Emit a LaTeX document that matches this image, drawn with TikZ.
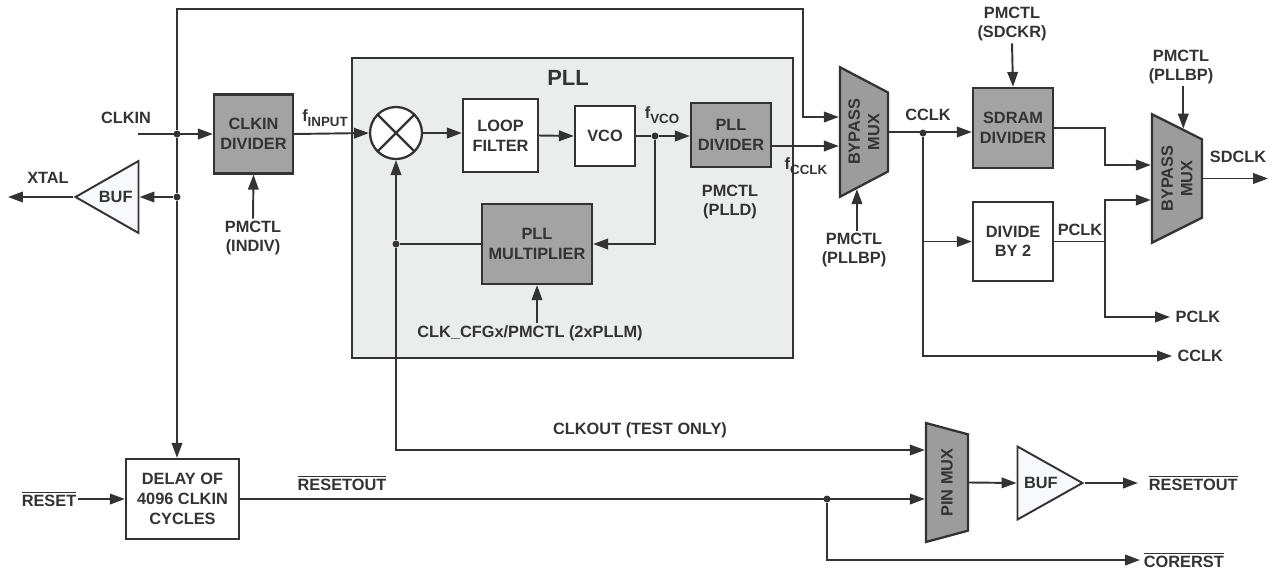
\documentclass[tikz,border=0pt]{standalone}
\usepackage{fontspec}
\setmainfont{Liberation Sans}
\usetikzlibrary{shapes.geometric,arrows.meta,calc}
\definecolor{linec}{HTML}{333333}
\definecolor{boxg}{HTML}{A3A3A3}
\definecolor{muxg}{HTML}{9C9C9C}
\definecolor{pllg}{HTML}{EBECEC}
\definecolor{bufc}{HTML}{F7F9FC}
\newcommand{\lblfont}{\fontsize{9.3}{11.2}\selectfont\bfseries}
\newcommand{\fsub}[1]{f\raisebox{-0.5ex}{\fontsize{7.6}{8}\selectfont #1}}
\newcommand{\negsig}[1]{$\overline{\mbox{#1}}$}
\begin{document}
\begin{tikzpicture}[x=0.02cm,y=-0.02cm,
  wire/.style={draw=linec,line width=1.1pt},
  arr/.style={wire,-{Triangle[length=8.5pt,width=6pt]}},
  blk/.style={draw=linec,line width=1.3pt,text=linec,align=center,font=\lblfont,inner sep=1pt},
  gblk/.style={blk,fill=boxg},
  lbl/.style={text=linec,align=center,font=\lblfont,inner sep=1pt},
  dot/.style={circle,fill=linec,inner sep=0pt,minimum size=0.14cm},
  mux/.style={trapezium,rotate=90,draw=linec,fill=muxg,line width=1.3pt,text=linec,align=center,font=\lblfont,
    trapezium stretches=true,trapezium left angle=124,trapezium right angle=124,inner sep=0pt},
  buf/.style={isosceles triangle,isosceles triangle stretches,draw=linec,fill=bufc,line width=1.1pt,text=linec,font=\lblfont,inner sep=1pt}]
\useasboundingbox (0,0) rectangle (1270,569);

% PLL block
\node[draw=linec,fill=pllg,line width=1.2pt,minimum width=8.82cm,minimum height=6cm] (pll) at (572.5,208) {};
\node[lbl,font=\fontsize{12.5}{14}\selectfont\bfseries] (plltitle) at (568,78) {PLL};

% input side
\node[lbl] (clkin) at (126,118) {CLKIN};
\coordinate (clkin0) at (138,134);
\node[dot] (jin) at (177,134) {};
\node[dot] (jbuf) at (177,197) {};
\coordinate (tl) at (177,9);
\coordinate (tr) at (803,9);
\coordinate (bypin) at (803,117);
\node[gblk,minimum width=1.58cm,minimum height=1.58cm] (cdiv) at (253.5,134) {CLKIN\\DIVIDER};
\node[lbl] (indiv) at (253,238) {PMCTL\\(INDIV)};
\node[buf,shape border rotate=180,minimum width=1.44cm,minimum height=1.26cm,anchor=apex] (xbuf) at (73,197) {BUF};
\coordinate (xtal0) at (8,197);
\node[lbl] (xtal) at (48,178) {XTAL};
\node[lbl] (finput) at (325,118) {\fsub{INPUT}};

% inside the PLL
\node[circle,draw=linec,fill=white,line width=1.3pt,minimum size=1.04cm,
  path picture={\draw[linec,line width=1.3pt] (path picture bounding box.north west) -- (path picture bounding box.south east)
    (path picture bounding box.north east) -- (path picture bounding box.south west);}] (mix) at (396,133) {};
\node[blk,fill=white,minimum width=1.5cm,minimum height=1.46cm] (lf) at (500.5,135.5) {LOOP\\FILTER};
\node[blk,fill=white,minimum width=1.2cm,minimum height=1.2cm] (vco) at (605,136) {VCO};
\node[dot] (jvco) at (655,136) {};
\node[lbl] (fvco) at (662,115) {\fsub{VCO}};
\node[gblk,minimum width=1.6cm,minimum height=1.28cm] (pdiv) at (731,135) {PLL\\DIVIDER};
\node[lbl] (plld) at (730,202) {PMCTL\\(PLLD)};
\node[gblk,minimum width=2.2cm,minimum height=1.6cm] (pmul) at (537,244) {PLL\\MULTIPLIER};
\node[dot] (jmul) at (396,244) {};
\node[lbl] (pllm) at (530,333) {CLK\_CFGx/PMCTL (2xPLLM)};
\node[lbl] (fcclk) at (806,166) {\fsub{CCLK}};
\coordinate (ckbend) at (396,450);

% clock outputs
\node[mux,minimum width=2.6cm,minimum height=0.96cm] (bmux) at (864,132) {BYPASS\\MUX};
\node[lbl] (pbp1) at (854,250) {PMCTL\\(PLLBP)};
\coordinate (bp1tip) at ($(bmux.top left corner)!0.36!(bmux.bottom left corner)$);
\node[dot] (jcclk) at (923,133) {};
\node[lbl] (cclk) at (928,115) {CCLK};
\node[gblk,minimum width=1.6cm,minimum height=1.6cm] (sdiv) at (1013,128) {SDRAM\\DIVIDER};
\node[lbl] (sdckr) at (1012,24) {PMCTL\\(SDCKR)};
\node[blk,fill=white,minimum width=1.6cm,minimum height=1.58cm] (div2) at (1013,241.5) {DIVIDE\\BY 2};
\node[lbl] (pclk) at (1080,230) {PCLK};
\coordinate (pcol) at (1105,244);
\coordinate (sdbend) at (1105,165);
\coordinate (pcbend) at (1105,200);
\coordinate (pclkbot) at (1105,317);
\node[mux,minimum width=2.58cm,minimum height=1cm] (smux) at (1177,178.5) {BYPASS\\MUX};
\node[lbl] (pbp2) at (1181,67) {PMCTL\\(PLLBP)};
\coordinate (bp2tip) at ($(smux.top right corner)!0.62!(smux.bottom right corner)$);
\node[lbl] (sdclk) at (1238,157) {SDCLK};
\coordinate (sdclk0) at (1268,178);
\node[lbl,anchor=west,inner sep=3pt] (pclko) at (1170,317) {PCLK};
\node[lbl,anchor=west,inner sep=3pt] (cclko) at (1172,356) {CCLK};

% reset path
\node[blk,fill=white,minimum width=2.26cm,minimum height=1.6cm] (delay) at (182.5,499) {DELAY OF\\4096 CLKIN\\CYCLES};
\node[lbl] (rst) at (49,499) {\negsig{RESET}};
\node[lbl] (rsto) at (342,483) {\negsig{RESETOUT}};
\node[lbl] (clkout) at (640,430) {CLKOUT (TEST ONLY)};
\node[dot] (jrst) at (827,499) {};
\node[mux,trapezium left angle=125,trapezium right angle=125,minimum width=2.38cm,minimum height=0.84cm] (pmux) at (947,482.5) {PIN MUX};
\node[buf,minimum width=1.46cm,minimum height=1.3cm,anchor=apex] (obuf) at (1085,483) {BUF};
\node[lbl,anchor=west,inner xsep=6pt] (rsto2) at (1138,483) {\negsig{RESETOUT}};
\node[lbl,anchor=west,inner sep=2pt] (corerst) at (1140,560) {\negsig{CORERST}};

% connectors
\draw[arr] (clkin0) -- (cdiv.west);
\draw[arr] (cdiv.east) -- (mix.west);
\draw[arr] (indiv.north) -- (cdiv.south);
\draw[arr] (jin) -- (tl) -- (tr) -- (bypin) -- (bypin -| bmux.north);
\draw[arr] (jin) -- (jbuf) -- (delay.north -| jbuf);
\draw[arr] (jbuf) -- (jbuf -| xbuf.east);
\draw[arr] (xbuf.apex) -- (xtal0);
\draw[arr] (mix.east) -- (mix.east -| lf.west);
\draw[arr] (lf.east) -- (vco.west);
\draw[wire] (vco.east) -- (jvco);
\draw[arr] (jvco) -- (jvco -| pdiv.west);
\draw[arr] (jvco) |- (pmul.east);
\draw[wire] (pmul.west) -- (jmul);
\draw[arr] (jmul) -- (mix.south);
\draw[arr] (pllm.north -| pmul) -- (pmul.south);
\draw[arr] (jmul) -- (ckbend) -- (ckbend -| pmux.north);
\draw[arr] ([yshift=-0.22cm]pdiv.east) -- ([yshift=-0.22cm]pdiv.east -| bmux.north);
\draw[arr] (pbp1.north -| bp1tip) -- (bp1tip);
\draw[arr] (bmux.south) -- (bmux.south -| sdiv.west);
\draw[arr] (sdckr.south) -- (sdiv.north);
\draw[arr] (jcclk) |- (cclko.west);
\draw[arr] (jcclk |- div2) -- (div2.west);
\draw[wire] (div2.east) -- (div2.east -| pcol);
\draw[arr] (sdiv.east) -| (sdbend) -- (sdbend -| smux.north);
\draw[arr] (div2.east -| pcol) -- (pcbend) -- (pcbend -| smux.north);
\draw[arr] (div2.east -| pcol) -- (pclkbot) -- (pclko.west);
\draw[arr] (pbp2.south -| bp2tip) -- (bp2tip);
\draw[arr] (smux.south) -- (smux.south -| sdclk0);
\draw[arr] (rst.east) -- (delay.west);
\draw[arr] (delay.east) -- (delay.east -| pmux.north);
\draw[arr] (jrst) |- (corerst.west);
\draw[arr] (pmux.south) -- (obuf.west);
\draw[arr] (obuf.apex) -- (rsto2.west);
\end{tikzpicture}
\end{document}
